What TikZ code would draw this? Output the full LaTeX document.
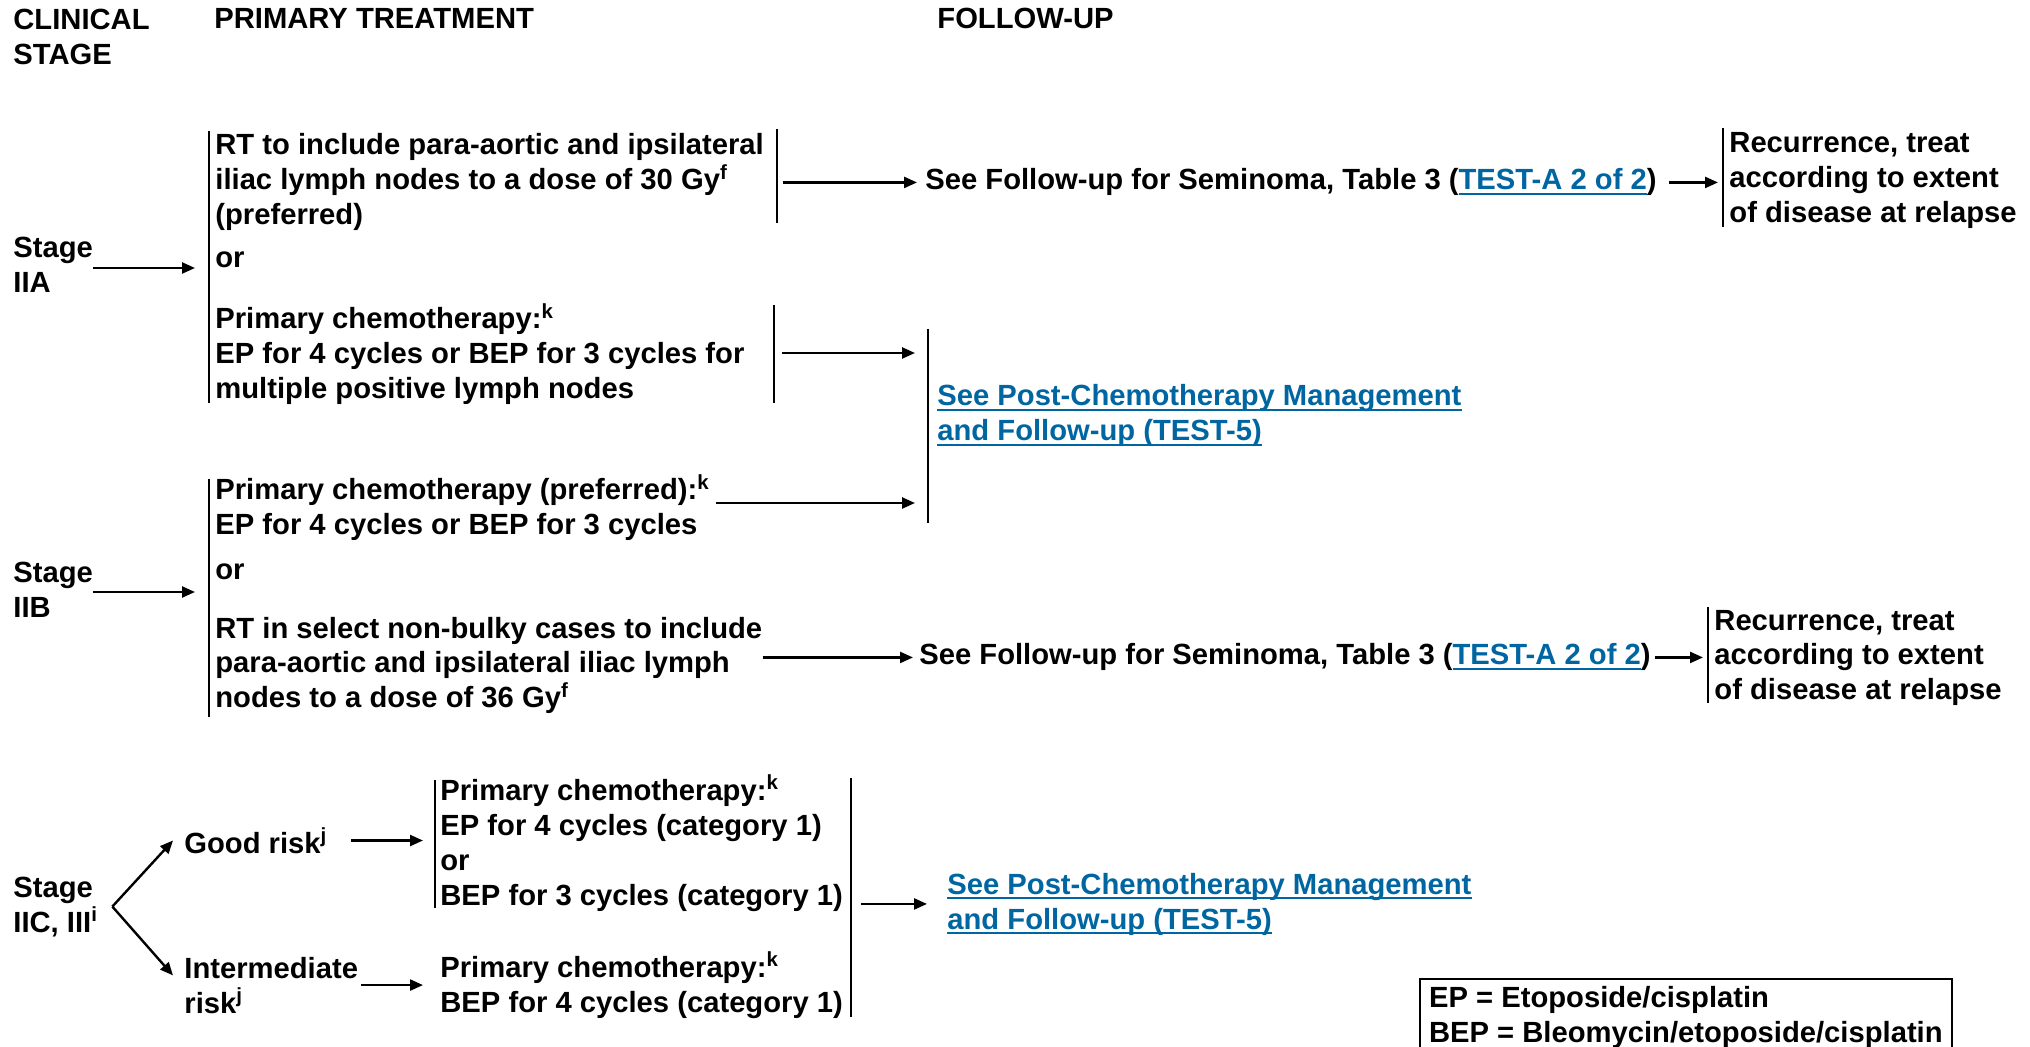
\documentclass[tikz,border=0pt]{standalone}
\usepackage{fontspec}
\setmainfont{Liberation Sans}
\usetikzlibrary{positioning, arrows.meta}
\definecolor{linkblue}{RGB}{0,102,161}
\newlength\lnkwd
\newcommand\lnk[1]{\settowidth\lnkwd{#1}{\color{linkblue}\rlap{\rule[-2.4pt]{\lnkwd}{1pt}}#1}}

\begin{document}
\begin{tikzpicture}[x=0.5pt, y=-0.5pt,
     node distance = 3mm and 3mm,
        txt/.style = {font=\fontsize{14.6pt}{17.5pt}\selectfont\bfseries,
                     inner sep=0pt, anchor=base west, align=left},
    linkbox/.style = {txt, text=linkblue},
        arr/.style = {-{Triangle[length=6.5pt,width=5.5pt]}, line width=1.2pt},
        brk/.style = {line width=1pt}
                        ]
\fill[white] (0,0) rectangle (2030,1047);
\useasboundingbox (0,0) rectangle (2030,1047);
% headings (multi-line nodes sit on their last baseline)
\node (hclin) [txt] at (13,65) {CLINICAL\\STAGE};
\node (hprim) [txt] at (214,29) {PRIMARY TREATMENT};
\node (hfol) [txt] at (937,29) {FOLLOW-UP};
% stage IIA
\node (s2a) [txt] at (13,293) {Stage\\IIA};
\coordinate (b2a-t) at (209,131);
\coordinate (b2a-b) at (209,403);
\coordinate (b2a-m) at (209,268);
\node (rt2a) [txt] at (215,225) {RT to include para-aortic and ipsilateral\\iliac lymph nodes to a dose of 30 Gy\textsuperscript{f}\\(preferred)};
\node (or2a) [txt] at (215,268) {or};
\node (ch2a) [txt] at (215,399) {Primary chemotherapy:\textsuperscript{k}\\EP for 4 cycles or BEP for 3 cycles for\\multiple positive lymph nodes};
\coordinate (r2a-t) at (777,129);
\coordinate (r2a-b) at (777,223);
\coordinate (c2a-t) at (774,305);
\coordinate (c2a-b) at (774,403);
\node (fu2a) [txt] at (925,190) {See Follow-up for Seminoma, Table 3 (\lnk{TEST-A 2 of 2})};
\coordinate (q2a-t) at (1723,128);
\coordinate (q2a-b) at (1723,227);
\node (rec2a) [txt] at (1729,223) {Recurrence, treat\\according to extent\\of disease at relapse};
% stage IIB
\node (s2b) [txt] at (13,618) {Stage\\IIB};
\coordinate (b2b-t) at (209,479);
\coordinate (b2b-b) at (209,717);
\coordinate (b2b-m) at (209,592);
\node (ch2b) [txt] at (215,535) {Primary chemotherapy (preferred):\textsuperscript{k}\\EP for 4 cycles or BEP for 3 cycles};
\node (or2b) [txt] at (215,580) {or};
\node (rt2b) [txt] at (215,708) {RT in select non-bulky cases to include\\para-aortic and ipsilateral iliac lymph\\nodes to a dose of 36 Gy\textsuperscript{f}};
\coordinate (pc1-t) at (928,329);
\coordinate (pc1-b) at (928,523);
\coordinate (pc1-a) at (928,353);
\coordinate (pc1-c) at (928,503);
\node (pc1) [linkbox] at (937,441) {\lnk{See Post-Chemotherapy Management}\\\lnk{and Follow-up (TEST-5)}};
\node (fu2b) [txt] at (919,665) {See Follow-up for Seminoma, Table 3 (\lnk{TEST-A 2 of 2})};
\coordinate (q2b-t) at (1708,607);
\coordinate (q2b-b) at (1708,703);
\node (rec2b) [txt] at (1714,700) {Recurrence, treat\\according to extent\\of disease at relapse};
% stage IIC, III
\node (s2c) [txt] at (13,932) {Stage\\IIC, III\textsuperscript{i}};
\coordinate (fork) at ([xshift=7pt]s2c.east);
\node (good) [txt] at (184,853) {Good risk\textsuperscript{j}};
\node (inter) [txt] at (184,1013) {Intermediate\\risk\textsuperscript{j}};
\coordinate (gb-t) at (435,780);
\coordinate (gb-b) at (435,908);
\node (g1) [txt] at (440,905) {Primary chemotherapy:\textsuperscript{k}\\EP for 4 cycles (category 1)\\or\\BEP for 3 cycles (category 1)};
\node (i1) [txt] at (440,1012) {Primary chemotherapy:\textsuperscript{k}\\BEP for 4 cycles (category 1)};
\coordinate (pc2-t) at (851,778);
\coordinate (pc2-b) at (851,1017);
\node (pc2) [linkbox] at (947,929) {\lnk{See Post-Chemotherapy Management}\\\lnk{and Follow-up (TEST-5)}};
\node (key) [txt, draw, line width=1.1pt, inner xsep=4.5pt, inner ysep=3.5pt, anchor=north west] at (1419,978) {EP = Etoposide/cisplatin\\BEP = Bleomycin/etoposide/cisplatin};
% brackets
\foreach \b in {b2a,r2a,c2a,q2a,b2b,pc1,q2b,gb,pc2}
  \draw[brk] (\b-t) -- (\b-b);
% arrows
\draw[arr, shorten >=7pt] (s2a.east |- b2a-m) -- (b2a-m);
\draw[arr, shorten <=3pt, shorten >=4pt] (r2a-t |- fu2a.west) -- (fu2a.west);
\draw[arr, shorten <=6pt, shorten >=2.5pt] (fu2a.east) -- (q2a-t |- fu2a.east);
\draw[arr, shorten <=4pt, shorten >=6.5pt] (c2a-t |- pc1-a) -- (pc1-a);
\draw[arr, shorten >=7pt] (s2b.east |- b2b-m) -- (b2b-m);
\draw[arr, shorten <=3pt, shorten >=6.5pt] (ch2b.east |- pc1-c) -- (pc1-c);
\draw[arr, shorten >=3pt] (rt2b.east |- fu2b.west) -- (fu2b.west);
\draw[arr, shorten <=2pt, shorten >=2.5pt] (fu2b.east) -- (q2b-t |- fu2b.east);
\draw[arr] (fork) -- ([xshift=-5.5pt]good.west);
\draw[arr] (fork) -- ([shift={(-5.5pt,-9.5pt)}]inter.north west);
\draw[arr, shorten <=11.5pt, shorten >=6pt] (good.east) -- (gb-t |- good.east);
\draw[arr, shorten <=1.5pt, shorten >=6pt] (inter.east) -- (gb-t |- inter.east);
\draw[arr, shorten <=5pt, shorten >=10pt] (pc2-t |- pc2.west) -- (pc2.west);
\end{tikzpicture}
\end{document}
